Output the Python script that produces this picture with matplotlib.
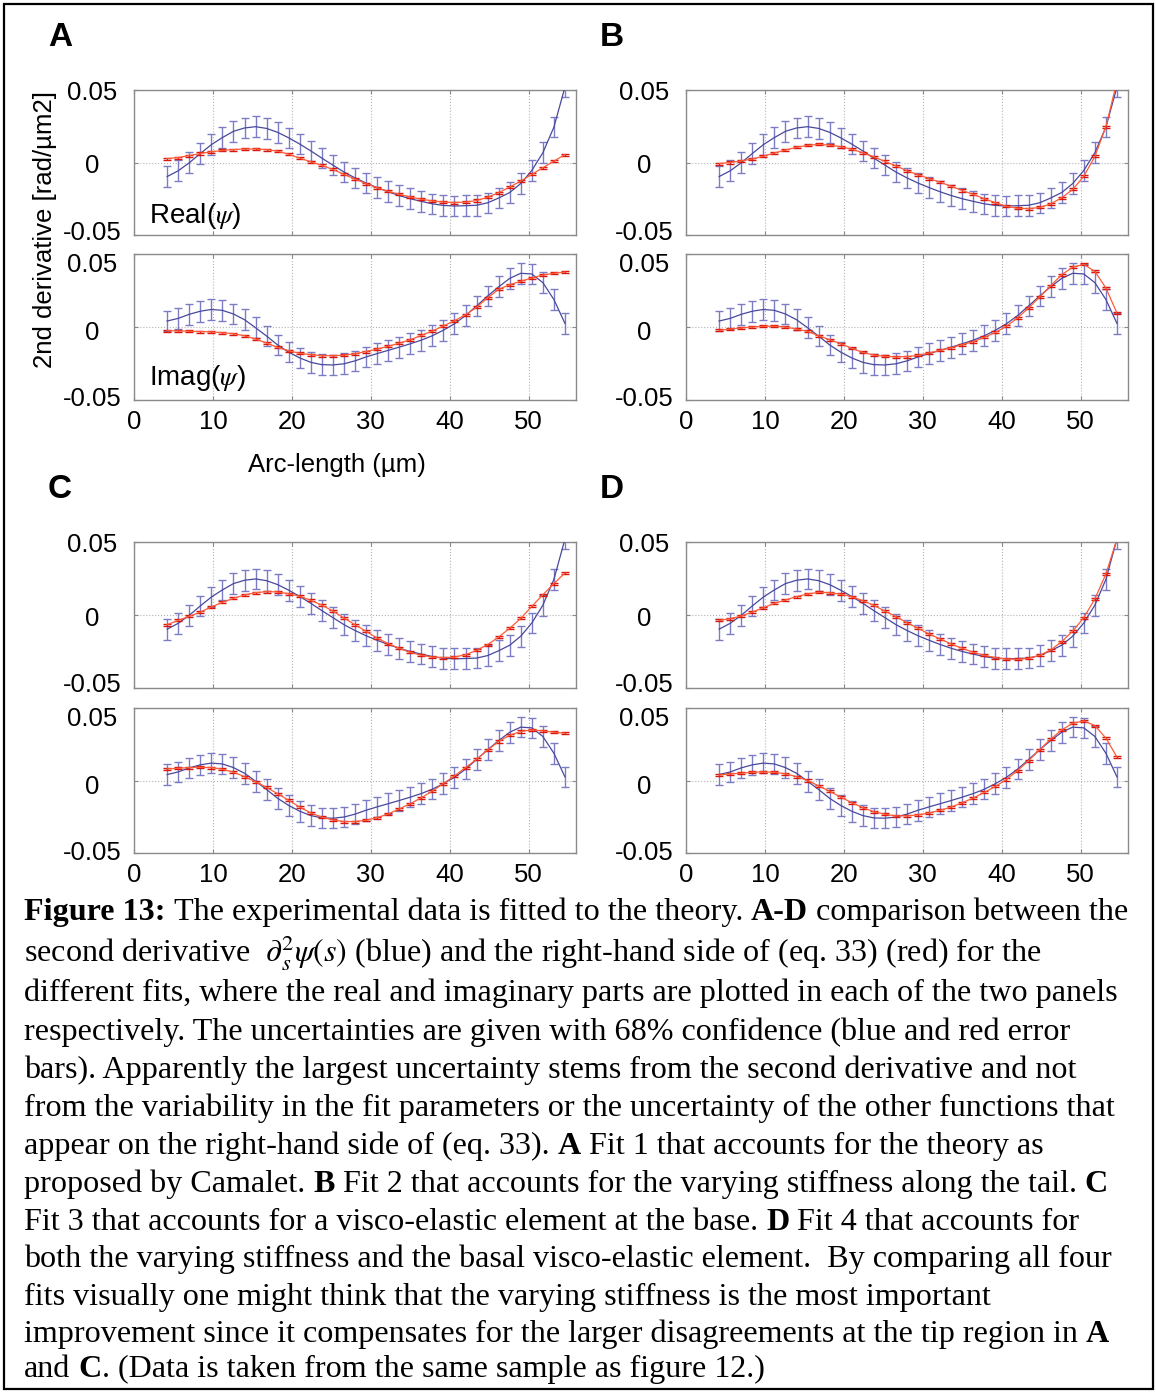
import matplotlib.pyplot as plt
import matplotlib.transforms as mtransforms
from matplotlib.patches import Rectangle

plt.rcParams['font.family'] = ['Liberation Sans', 'DejaVu Sans']
plt.rcParams['mathtext.fontset'] = 'stix'

W, H = 1156, 1392

# arc-length sample points along the tail (um)
arc = [4.2, 5.6, 7.0, 8.4, 9.8, 11.2, 12.6, 14.0, 15.4, 16.8, 18.2, 19.6, 21.0,
       22.4, 23.8, 25.2, 26.6, 28.0, 29.4, 30.8, 32.2, 33.6, 35.0, 36.4, 37.8,
       39.2, 40.6, 42.0, 43.4, 44.8, 46.2, 47.6, 49.0, 50.4, 51.8, 53.2, 54.6]

# measured second derivative (blue)
deriv_re = [-0.0097, -0.0057, -0.0002, 0.0062, 0.0123, 0.0172, 0.0215, 0.0238,
            0.0247, 0.0235, 0.0208, 0.0170, 0.0127, 0.0080, 0.0030, -0.0018,
            -0.0066, -0.0106, -0.0142, -0.0173, -0.0202, -0.0228, -0.0250,
            -0.0268, -0.0285, -0.0296, -0.0300, -0.0298, -0.0295, -0.0278,
            -0.0245, -0.0207, -0.0145, -0.0055, 0.0067, 0.0244, 0.0520]
deriv_im = [0.0041, 0.0059, 0.0087, 0.0108, 0.0120, 0.0114, 0.0089, 0.0050,
            -0.0005, -0.0062, -0.0123, -0.0172, -0.0212, -0.0242, -0.0258,
            -0.0260, -0.0252, -0.0232, -0.0205, -0.0182, -0.0160, -0.0138,
            -0.0115, -0.0090, -0.0060, -0.0022, 0.0022, 0.0078, 0.0144, 0.0212,
            0.0275, 0.0333, 0.0368, 0.0363, 0.0304, 0.0188, 0.0025]
deriv_err = 0.0071

# right-hand side of eq. 33 for the four fits (red)
fit1_re = [0.0027, 0.0034, 0.0048, 0.0062, 0.0074, 0.0083, 0.0089, 0.0093,
           0.0093, 0.0089, 0.0078, 0.0057, 0.0030, 0.0005, -0.0020, -0.0048,
           -0.0082, -0.0114, -0.0146, -0.0174, -0.0199, -0.0219, -0.0238,
           -0.0253, -0.0265, -0.0273, -0.0276, -0.0273, -0.0262, -0.0240,
           -0.0208, -0.0169, -0.0128, -0.0082, -0.0036, 0.0009, 0.0055]
fit1_im = [-0.0025, -0.0027, -0.0029, -0.0031, -0.0034, -0.0039, -0.0046,
           -0.0060, -0.0082, -0.0110, -0.0140, -0.0163, -0.0180, -0.0190,
           -0.0196, -0.0197, -0.0193, -0.0183, -0.0168, -0.0151, -0.0132,
           -0.0111, -0.0087, -0.0058, -0.0027, 0.0007, 0.0043, 0.0084, 0.0135,
           0.0200, 0.0258, 0.0290, 0.0313, 0.0336, 0.0356, 0.0368, 0.0376]
fit2_re = [-0.0007, 0.0000, 0.0011, 0.0025, 0.0043, 0.0066, 0.0086, 0.0105,
           0.0118, 0.0125, 0.0120, 0.0109, 0.0091, 0.0068, 0.0039, 0.0007,
           -0.0023, -0.0057, -0.0084, -0.0111, -0.0136, -0.0164, -0.0193,
           -0.0220, -0.0250, -0.0277, -0.0302, -0.0316, -0.0318, -0.0310,
           -0.0286, -0.0243, -0.0186, -0.0095, 0.0042, 0.0247, 0.0560]
fit2_im = [-0.0023, -0.0014, -0.0007, 0.0000, 0.0005, 0.0005, 0.0000, -0.0014,
           -0.0030, -0.0060, -0.0087, -0.0114, -0.0146, -0.0174, -0.0192,
           -0.0201, -0.0205, -0.0203, -0.0194, -0.0178, -0.0160, -0.0142,
           -0.0121, -0.0100, -0.0071, -0.0037, 0.0005, 0.0062, 0.0130, 0.0205,
           0.0283, 0.0358, 0.0410, 0.0429, 0.0381, 0.0267, 0.0096]
fit3_re = [-0.0066, -0.0037, -0.0009, 0.0020, 0.0055, 0.0087, 0.0114, 0.0137,
           0.0153, 0.0160, 0.0158, 0.0146, 0.0128, 0.0100, 0.0068, 0.0027,
           -0.0021, -0.0066, -0.0112, -0.0158, -0.0196, -0.0228, -0.0256,
           -0.0276, -0.0288, -0.0292, -0.0288, -0.0272, -0.0242, -0.0203,
           -0.0151, -0.0091, -0.0023, 0.0059, 0.0139, 0.0215, 0.0288]
fit3_im = [0.0080, 0.0084, 0.0089, 0.0091, 0.0089, 0.0078, 0.0057, 0.0027,
           -0.0009, -0.0048, -0.0091, -0.0137, -0.0183, -0.0224, -0.0253,
           -0.0272, -0.0283, -0.0283, -0.0274, -0.0256, -0.0231, -0.0196,
           -0.0160, -0.0119, -0.0073, -0.0021, 0.0032, 0.0089, 0.0146, 0.0210,
           0.0269, 0.0313, 0.0338, 0.0349, 0.0342, 0.0333, 0.0326]
fit4_re = [-0.0037, -0.0025, -0.0007, 0.0020, 0.0050, 0.0080, 0.0103, 0.0126,
           0.0144, 0.0155, 0.0153, 0.0142, 0.0126, 0.0098, 0.0066, 0.0027,
           -0.0011, -0.0053, -0.0091, -0.0130, -0.0164, -0.0199, -0.0228,
           -0.0256, -0.0276, -0.0292, -0.0301, -0.0304, -0.0297, -0.0276,
           -0.0240, -0.0183, -0.0110, -0.0018, 0.0110, 0.0281, 0.0520]
fit4_im = [0.0037, 0.0046, 0.0050, 0.0057, 0.0059, 0.0057, 0.0046, 0.0027,
           0.0000, -0.0037, -0.0075, -0.0114, -0.0153, -0.0187, -0.0215,
           -0.0233, -0.0244, -0.0244, -0.0237, -0.0224, -0.0205, -0.0183,
           -0.0153, -0.0121, -0.0082, -0.0041, 0.0007, 0.0068, 0.0137, 0.0212,
           0.0285, 0.0349, 0.0395, 0.0411, 0.0379, 0.0292, 0.0162]
fit_err = 0.0007

panels = [('A', fit1_re, fit1_im), ('B', fit2_re, fit2_im),
          ('C', fit3_re, fit3_im), ('D', fit4_re, fit4_im)]

xticks = [0, 10, 20, 30, 40, 50]
yticks = [-0.05, 0, 0.05]
ytick_labels = ['-0.05', '0', '0.05']

# panel frames in pixels: left, right, top of real axes, top of imag axes
cols = [134, 686]
rows = [(90, 235, 254, 400), (542, 688, 708, 853)]
ax_w = 442

fig = plt.figure(figsize=(W / 100, H / 100), dpi=100)


def add_axes(left, top, bottom):
    return fig.add_axes([left / W, 1 - bottom / H, ax_w / W, (bottom - top) / H])


def style(ax, bottom_labels, label_shift):
    ax.set_xlim(0, 56)
    ax.set_ylim(-0.05, 0.05)
    ax.set_xticks(xticks)
    ax.set_yticks(yticks)
    ax.set_yticklabels(ytick_labels)
    ax.grid(True, linestyle=':', color='#b5b5b5', linewidth=0.8)
    ax.set_axisbelow(True)
    for sp in ax.spines.values():
        sp.set_color('#8a8a8a')
        sp.set_linewidth(1.0)
    ax.tick_params(direction='in', length=3, width=0.8, color='#8a8a8a',
                   top=True, right=True, labelsize=18.5, pad=7)
    ax.tick_params(axis='y', pad=30)
    # nudge the y labels vertically (pixels, positive = down)
    for lab, dy in zip(ax.get_yticklabels(), label_shift):
        lab.set_horizontalalignment('center')
        off = mtransforms.ScaledTranslation(0, -dy / 100, fig.dpi_scale_trans)
        lab.set_transform(lab.get_transform() + off)
    if not bottom_labels:
        ax.tick_params(labelbottom=False)


def draw(ax, fit):
    ax.errorbar(arc, fit[0], yerr=deriv_err, color='#48489e', lw=0.9,
                ecolor='#7c7cc4', elinewidth=1.0, capsize=3.2, capthick=1.0,
                zorder=3)
    ax.errorbar(arc, fit[1], yerr=fit_err, color='#ff5a36', lw=0.9,
                ecolor='#d8180e', elinewidth=0.9, capsize=3.0, capthick=1.0,
                zorder=4)


for k, (letter, f_re, f_im) in enumerate(panels):
    left = cols[k % 2]
    t_re, b_re, t_im, b_im = rows[k // 2]
    ax_re = add_axes(left, t_re, b_re)
    ax_im = add_axes(left, t_im, b_im)
    draw(ax_re, (deriv_re, f_re))
    draw(ax_im, (deriv_im, f_im))
    style(ax_re, False, (-5, 1, 0))
    style(ax_im, True, (-3, 4, 8))
    fig.text((left - 74) / W, 1 - (t_re - 52) / H, letter, fontsize=24,
             fontweight='bold', ha='center', va='center')
    if letter == 'A':
        ax_re.text(0.035, 0.13, r'Real($\psi$)', transform=ax_re.transAxes,
                   fontsize=20, ha='left', va='center')
        ax_im.text(0.035, 0.15, r'Imag($\psi$)', transform=ax_im.transAxes,
                   fontsize=20, ha='left', va='center')

fig.text(337 / W, 1 - 465 / H, 'Arc-length (µm)', fontsize=18.5,
         ha='center', va='center')
fig.text(45 / W, 1 - 230 / H, '2nd derivative [rad/µm2]', fontsize=18.5,
         rotation=90, ha='center', va='center')

# caption, bold runs marked with **
caption = [
    "**Figure 13:** The experimental data is fitted to the theory. **A-D** comparison between the",
    r"second derivative  $\partial_s^2\psi(s)$ (blue) and the right-hand side of (eq. 33) (red) for the",
    "different fits, where the real and imaginary parts are plotted in each of the two panels",
    "respectively. The uncertainties are given with 68% confidence (blue and red error",
    "bars). Apparently the largest uncertainty stems from the second derivative and not",
    "from the variability in the fit parameters or the uncertainty of the other functions that",
    "appear on the right-hand side of (eq. 33). **A** Fit 1 that accounts for the theory as",
    "proposed by Camalet. **B** Fit 2 that accounts for the varying stiffness along the tail. **C**",
    "Fit 3 that accounts for a visco-elastic element at the base. **D** Fit 4 that accounts for",
    "both the varying stiffness and the basal visco-elastic element.  By comparing all four",
    "fits visually one might think that the varying stiffness is the most important",
    "improvement since it compensates for the larger disagreements at the tip region in **A**",
    "and **C**. (Data is taken from the same sample as figure 12.)",
]
cap_base = [920, 962, 1001, 1040, 1078, 1116, 1154, 1192, 1230, 1267, 1305,
            1342, 1377]
cap_fs = 23.1
cap_font = 'Liberation Serif'

renderer = fig.canvas.get_renderer()


def width(s, weight):
    t = fig.text(0, 0, s, fontsize=cap_fs, family=cap_font, weight=weight)
    w = t.get_window_extent(renderer).width
    t.remove()
    return w


space = {w: width('x x', w) - width('xx', w) for w in ('normal', 'bold')}

for line, yb in zip(caption, cap_base):
    x = 24
    for k, part in enumerate(line.split('**')):
        if not part:
            continue
        weight = 'bold' if k % 2 else 'normal'
        lead = len(part) - len(part.lstrip(' '))
        trail = len(part) - len(part.rstrip(' '))
        x += lead * space[weight]
        t = fig.text(x / W, 1 - yb / H, part.strip(' '), fontsize=cap_fs,
                     family=cap_font, weight=weight, ha='left', va='baseline')
        x = t.get_window_extent(renderer).x1 + trail * space[weight]

fig.patches.append(Rectangle((3.5 / W, 3.5 / H), 1 - 7 / W, 1 - 7 / H,
                             transform=fig.transFigure, fill=False,
                             edgecolor='black', linewidth=1.6))

fig.savefig('out.png', dpi=100)
